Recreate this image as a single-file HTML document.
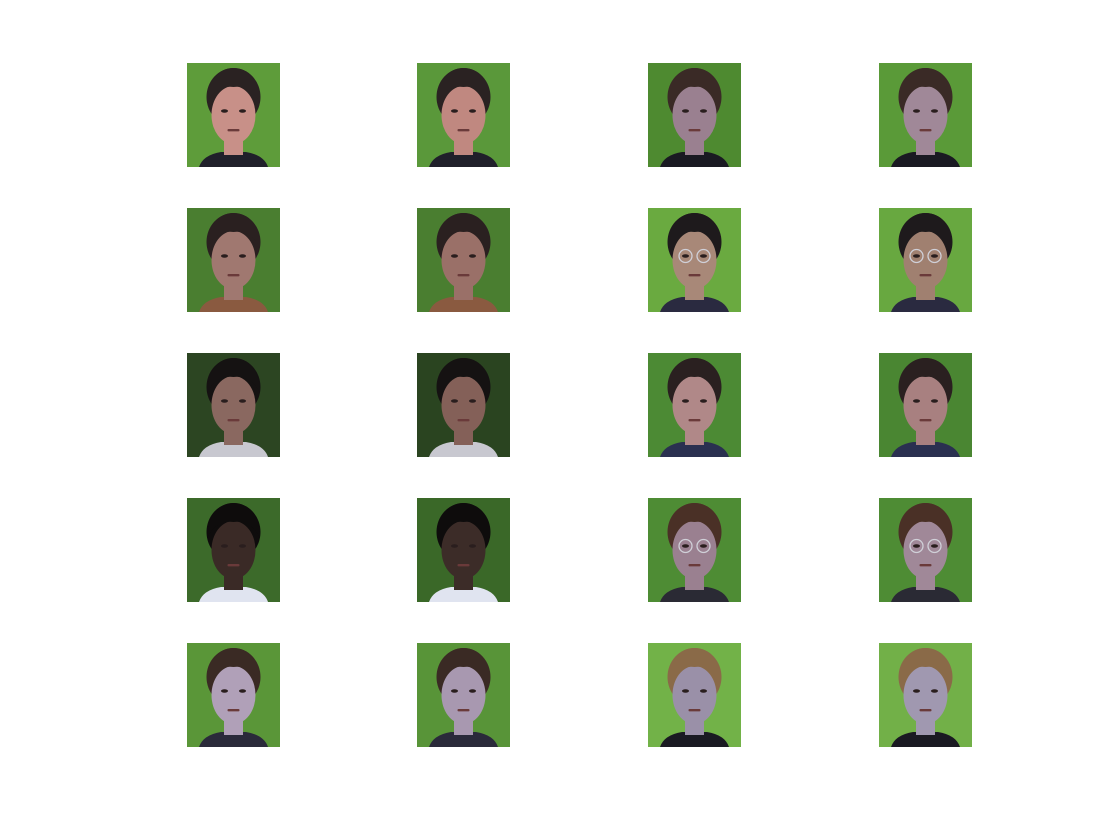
<!DOCTYPE html>
<html><head><meta charset="utf-8">
<style>
html,body{margin:0;padding:0;background:#fff;width:1120px;height:840px;overflow:hidden;font-family:"Liberation Sans",sans-serif;}
svg{position:absolute;left:0;top:0;}
</style></head>
<body>
<svg id="fig" width="1120" height="840"></svg>
<script>
const colX = [187, 417, 648, 879];
const rowY = [63, 208, 353, 498, 643];
const bgColors = ["#5e9c3a","#5a983a","#4e8a30","#5a9a38",
                  "#4a7e30","#4a7e30","#6aaa40","#68a840",
                  "#2c4522","#2a4420","#4c8a34","#4a8632",
                  "#3c6a2a","#3a6828","#4e8c34","#4e8c34",
                  "#5a9638","#589438","#72b248","#72b048"];
const skinColors = ["#c89088","#c08880","#9a8090","#a08898",
                    "#a07870","#9a7068","#a88878","#a08070",
                    "#8a6860","#846058","#b08888","#a88080",
                    "#3a2a26","#3c2c28","#9a8090","#a08898",
                    "#b0a0b8","#a898b0","#9a90a8","#a098b0"];
const hairColors = ["#2a2222","#2a2222","#3a2a26","#3a2a26",
                    "#2a2020","#2a2020","#1e1a1c","#1e1a1c",
                    "#151212","#151212","#2a2020","#2a2020",
                    "#0e0c0c","#0e0c0c","#4a3026","#4a3026",
                    "#3a2a24","#3a2a24","#8a6a48","#8a6a48"];
const shirtColors = ["#20202a","#20202a","#1a1a22","#1a1a22",
                     "#8a5a40","#8a5a40","#2a2a40","#2a2a40",
                     "#c8c8d0","#c8c8d0","#2a3050","#2a3050",
                     "#e0e4f0","#e0e4f0","#2a2a34","#2a2a34",
                     "#2a2a3a","#2a2a3a","#1a1a22","#1a1a22"];
const glasses = [0,0,0,0, 0,0,1,1, 0,0,0,0, 0,0,1,1, 0,0,0,0];
const tileW = 93, tileH = 104;
const svg = document.getElementById('fig');
const NS = "http://www.w3.org/2000/svg";
function mk(tag, attrs, parent){
  const e = document.createElementNS(NS, tag);
  for (const k in attrs) e.setAttribute(k, attrs[k]);
  parent.appendChild(e);
  return e;
}
let idx = 0;
for (let r = 0; r < rowY.length; r++) {
  for (let c = 0; c < colX.length; c++) {
    const x = colX[c], y = rowY[r], i = idx++;
    const g = mk('g', {transform: `translate(${x},${y})`}, svg);
    
    
    mk('rect', {x:0, y:0, width:tileW, height:tileH, fill:bgColors[i]}, g);
    mk('path', {d:`M12 ${tileH} Q16 92 34 89 L59 89 Q77 92 81 ${tileH} Z`, fill:shirtColors[i]}, g);
    mk('rect', {x:37, y:78, width:19, height:14, fill:skinColors[i]}, g);
    mk('ellipse', {cx:46.5, cy:34, rx:27, ry:29, fill:hairColors[i]}, g);
    mk('ellipse', {cx:46.5, cy:52, rx:22, ry:29, fill:skinColors[i]}, g);
    mk('path', {d:"M20 40 Q22 6 46.5 5 Q72 6 73 40 Q64 22 46.5 24 Q29 22 20 40 Z", fill:hairColors[i]}, g);
    mk('ellipse', {cx:37.5, cy:48, rx:3.5, ry:1.7, fill:"#2a1e1e"}, g);
    mk('ellipse', {cx:55.5, cy:48, rx:3.5, ry:1.7, fill:"#2a1e1e"}, g);
    if (glasses[i]) {
      mk('circle', {cx:37.5, cy:48, r:6.5, fill:"none", stroke:"#d0d0d8", "stroke-width":1.3}, g);
      mk('circle', {cx:55.5, cy:48, r:6.5, fill:"none", stroke:"#d0d0d8", "stroke-width":1.3}, g);
    }
    mk('rect', {x:40.5, y:66, width:12, height:2.4, rx:1, fill:"#6a3a3a"}, g);
  }
}
</script>
</body></html>
